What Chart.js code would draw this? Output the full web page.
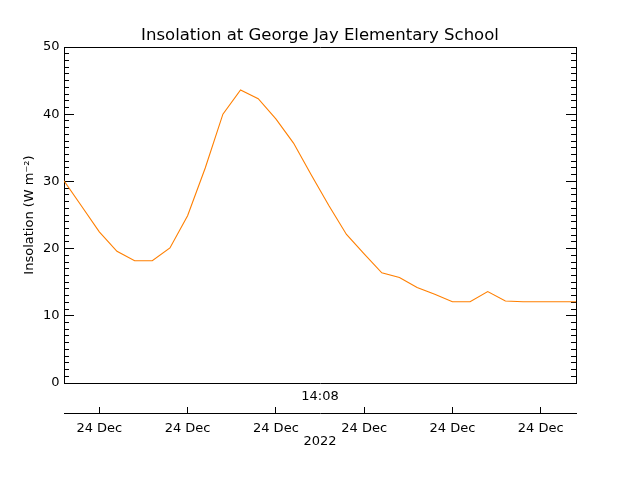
<!DOCTYPE html>
<html>
<head>
<meta charset="utf-8">
<script src="https://cdn.jsdelivr.net/npm/chart.js@4/dist/chart.umd.min.js"></script>
<style>
  html, body { margin: 0; padding: 0; background: #fff; }
  canvas { display: block; }
</style>
</head>
<body>
<canvas id="chart" width="640" height="480"></canvas>
<script>
// hours from the start of the plotted window, one sample every 12 minutes
const hours = [0.0, 0.2, 0.4, 0.6, 0.8, 1.0, 1.2, 1.4, 1.6, 1.8,
               2.0, 2.2, 2.4, 2.6, 2.8, 3.0, 3.2, 3.4, 3.6, 3.8,
               4.0, 4.2, 4.4, 4.6, 4.8, 5.0, 5.2, 5.4, 5.6, 5.8];
// insolation, W m-2
const insolation = [30.1, 26.3, 22.5, 19.6, 18.2, 18.2, 20.1, 24.9, 32.0, 40.0,
                    43.6, 42.3, 39.3, 35.7, 31.0, 26.4, 22.1, 19.2, 16.4, 15.7,
                    14.2, 13.2, 12.1, 12.1, 13.6, 12.2, 12.1, 12.1, 12.1, 12.1];

const dateTickHours = [0.4, 1.4, 2.4, 3.4, 4.4, 5.4];
const dateTickLabels = ["24 Dec", "24 Dec", "24 Dec", "24 Dec", "24 Dec", "24 Dec"];
const centreTimeLabel = "14:08";
const yearLabel = "2022";
const chartTitle = "Insolation at George Jay Elementary School";
const yTitle = "Insolation (W m\u207B\u00B2)";

const FONT = "'DejaVu Sans', sans-serif";
const lblFont = { family: FONT, size: 13 };
const black = "#000";

new Chart(document.getElementById("chart"), {
    type: "line",
    data: {
        datasets: [{
            data: hours.map((h, i) => ({ x: h, y: insolation[i] })),
            borderColor: "#ff7f00",
            borderWidth: 1.1,
            pointRadius: 0,
            tension: 0,
            fill: false,
            xAxisID: "x",
            yAxisID: "y"
        }]
    },
    options: {
        responsive: false,
        animation: false,
        devicePixelRatio: 1,
        layout: { padding: 0 },
        plugins: {
            legend: { display: false },
            tooltip: { enabled: false },
            title: {
                display: true,
                text: chartTitle,
                color: black,
                font: { family: FONT, size: 16.5, weight: "normal" },
                padding: { top: 26, bottom: 1.2 }
            }
        },
        scales: {
            x: {
                type: "linear", position: "bottom", min: 0, max: 5.8,
                border: { display: true, color: black, width: 1 },
                grid: { display: false },
                ticks: { display: false },
                title: { display: true, text: centreTimeLabel, color: black, font: lblFont,
                         padding: { top: 6, bottom: 8.4 } },
                afterFit(s) { s.height = 30; }
            },
            x2: {
                type: "linear", position: "bottom", min: 0, max: 5.8,
                border: { display: true, color: black, width: 1 },
                grid: { drawOnChartArea: false, tickLength: -6, color: black },
                ticks: {
                    color: black, font: lblFont, padding: 13.7,
                    maxRotation: 0, autoSkip: false,
                    callback: (v, i) => dateTickLabels[i]
                },
                afterBuildTicks(s) { s.ticks = dateTickHours.map(v => ({ value: v })); },
                title: { display: true, text: yearLabel, color: black, font: lblFont,
                         padding: { top: 0, bottom: 30.5 } },
                afterFit(s) { s.height = 67; }
            },
            xTop: {
                type: "linear", position: "top", min: 0, max: 5.8,
                border: { display: true, color: black, width: 1 },
                grid: { display: false },
                ticks: { display: false },
                afterFit(s) { s.height = 0; }
            },
            y: {
                type: "linear", position: "left", min: 0, max: 50, weight: 1,
                border: { display: true, color: black, width: 1 },
                grid: { drawOnChartArea: false, tickLength: -10, color: black },
                ticks: { stepSize: 10, color: black, font: lblFont, padding: 14.5 },
                title: { display: true, text: yTitle, color: black, font: lblFont,
                         padding: { top: 22.2, bottom: 0 } },
                afterFit(s) { s.width = 64; }
            },
            yMinor: {
                type: "linear", position: "left", min: 0, max: 50, weight: 0,
                border: { display: false },
                grid: { drawOnChartArea: false, tickLength: -5, color: black },
                ticks: { display: false, stepSize: 1 },
                afterFit(s) { s.width = 0; }
            },
            yR: {
                type: "linear", position: "right", min: 0, max: 50, weight: 1,
                border: { display: true, color: black, width: 1 },
                grid: { drawOnChartArea: false, tickLength: -10, color: black },
                ticks: { display: false, stepSize: 10 },
                afterFit(s) { s.width = 64; }
            },
            yRMinor: {
                type: "linear", position: "right", min: 0, max: 50, weight: 0,
                border: { display: false },
                grid: { drawOnChartArea: false, tickLength: -5, color: black },
                ticks: { display: false, stepSize: 1 },
                afterFit(s) { s.width = 0; }
            }
        }
    }
});
</script>
</body>
</html>
